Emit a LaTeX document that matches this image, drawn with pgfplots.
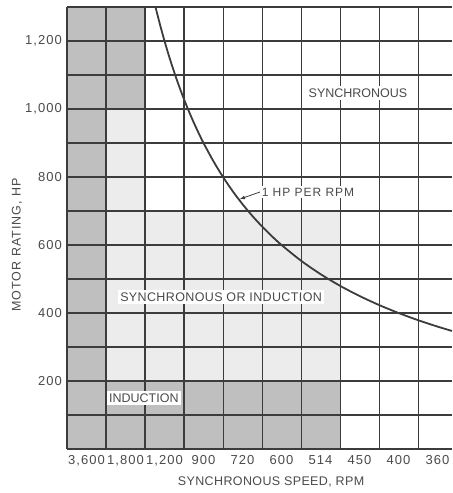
\documentclass[border=0pt]{standalone}
\usepackage{pgfplots}
\pgfplotsset{compat=1.18}
\usepackage{fontspec}
\setmainfont{Liberation Sans}
\newfontfamily\spA[LetterSpace=8]{Liberation Sans}
\newfontfamily\spB[LetterSpace=3]{Liberation Sans}
\definecolor{ink}{HTML}{3C3C3C}
\definecolor{txt}{HTML}{4A4A4A}
\definecolor{darkshade}{HTML}{BFBFBF}
\definecolor{lightshade}{HTML}{ECECEC}
\begin{document}
\begin{tikzpicture}
\begin{axis}[
  name=ax, set layers=standard,
  scale only axis, width=385pt, height=442pt,
  xmin=0.5, xmax=10.37, ymin=0, ymax=1300,
  xtick={1,...,10},
  xticklabels={{3,600},{1,800},{1,200},900,720,600,514,450,400,360},
  ytick={200,400,600,800,1000,1200},
  yticklabels={200,400,600,800,{1,000},{1,200}},
  minor xtick={0.5,1.5,...,10.5},
  minor ytick={0,100,...,1300},
  xminorgrids, yminorgrids, ymajorgrids,
  major tick length=0pt, minor tick length=0pt,
  major grid style={ink, line width=1.05pt},
  minor grid style={ink, line width=1.05pt},
  axis line style={draw=none},
  tick label style={font=\spA\fontsize{13}{13}\selectfont, text=txt},
  yticklabel style={anchor=east, inner sep=0pt, xshift=-5pt},
  xticklabel style={anchor=north, inner sep=0pt, yshift=-6pt},
  xlabel={SYNCHRONOUS SPEED, RPM},
  ylabel={MOTOR RATING, HP},
  every axis x label/.style={at={(axis description cs:0.53,-0.0747)}, anchor=center, font=\spB\fontsize{12.5}{13}\selectfont, text=txt},
  every axis y label/.style={at={(axis description cs:-0.13,0.4615)}, rotate=90, anchor=center, font=\spA\fontsize{12.5}{13}\selectfont, text=txt},
  clip=true,
]
\addplot[on layer=axis background, fill=darkshade, draw=none]
  coordinates {(0.5,0) (7.5,0) (7.5,200) (1.5,200) (1.5,1000) (2.5,1000) (2.5,1300) (0.5,1300)} -- cycle;
\addplot[on layer=axis background, fill=lightshade, draw=none]
  coordinates {(1.5,200) (7.5,200) (7.5,700) (2.5,700) (2.5,1000) (1.5,1000)} -- cycle;
\addplot[ink, line width=1.8pt, smooth] coordinates {
 (2.77,1299.6) (2.8,1285.7) (2.9,1241.4) (3.0,1200) (3.1,1161.3) (3.2,1125)
 (3.3,1090.9) (3.4,1058.8) (3.5,1028.6) (3.6,1000) (3.75,960) (3.9,923.1)
 (4.0,900) (4.25,847.1) (4.5,800) (4.75,757.9) (5.0,720) (5.25,685.7)
 (5.5,654.5) (5.75,626.1) (6.0,600) (6.5,553.8) (7.0,514.3) (7.5,480)
 (8.0,450) (8.5,423.5) (9.0,400) (9.5,378.9) (10.0,360) (10.37,347.2)};
\node[fill=white, inner sep=2.5pt, text=txt, font=\fontsize{12.5}{13}\selectfont] at (axis cs:2.47,150) {INDUCTION};
\node[fill=white, inner sep=2.5pt, text=txt, font=\spB\fontsize{12.5}{13}\selectfont] at (axis cs:4.45,447) {SYNCHRONOUS OR INDUCTION};
\node[fill=white, inner sep=2.5pt, text=txt, font=\fontsize{12.5}{13}\selectfont] at (axis cs:7.96,1047) {SYNCHRONOUS};
\node[fill=white, inner sep=1.5pt, anchor=west, text=txt, font=\spA\fontsize{12}{12}\selectfont] (hp) at (axis cs:5.45,756) {1 HP PER RPM};
\draw[ink, line width=0.8pt, -{latex}] (hp.west) -- (axis cs:4.93,735);
\end{axis}
\pgfresetboundingbox
\path (ax.south west) ++(-67pt,-44pt) coordinate (bl);
\path (ax.north east) ++(0pt,7pt) coordinate (tr);
\path[use as bounding box] (bl) rectangle (tr);
\end{tikzpicture}
\end{document}
